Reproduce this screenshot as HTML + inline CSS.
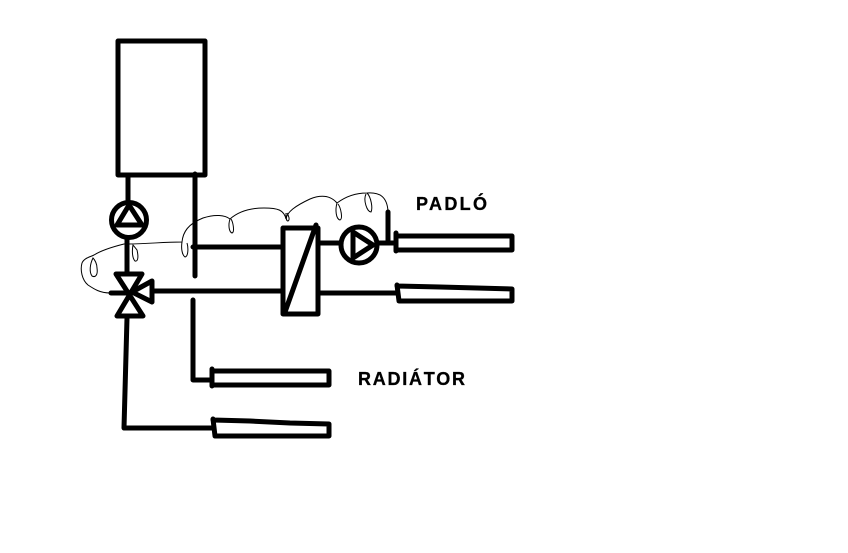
<!DOCTYPE html>
<html><head><meta charset="utf-8"><style>
html,body{margin:0;padding:0;background:#fff;width:848px;height:553px;overflow:hidden}
svg{display:block}
text{font-family:"Liberation Sans",sans-serif;font-weight:bold;font-size:18px;fill:#000;stroke:#000;stroke-width:.3px}
</style></head><body>
<svg width="848" height="553" viewBox="0 0 848 553" xmlns="http://www.w3.org/2000/svg">
<rect width="848" height="553" fill="#fff"/>
<g fill="none" stroke="#000" stroke-width="5" stroke-linecap="round" stroke-linejoin="round">
<rect x="118" y="41" width="87" height="134"/>
<path d="M128 175V202M127 238V273M195 174V276M193 300V380H210"/>
<circle cx="129" cy="220" r="17.5"/>
<path d="M129 205L117 225H142Z"/>
<path d="M116 274H142L117 316H143Z"/>
<path d="M152 281L132 292L152 302Z"/>
<path d="M111 293H130"/>
<path d="M127 318L124 428H212"/>
<path d="M193 247H283M153 291H283"/>
<rect x="283" y="228" width="35" height="86"/>
<path d="M285 312L316 225"/>
<circle cx="359" cy="245" r="18"/>
<path d="M353 232V258L373 245Z"/>
<path d="M318 243H341M378 243H396M388 212V243"/>
<path d="M396 233V251M396 236H512V250H396"/>
<path d="M318 293H398M397 285L399 301H512V289L440 287L397 286"/>
<path d="M212 369V386M212 371H329V385H212"/>
<path d="M213 419L215 436H329V424L290 423L250 421L213 420"/>
</g>
<g fill="none" stroke="#000" stroke-width="1">
<path d="M110 293C100 293 94 289 88 285C82 280 80 270 82 263C84 258 90 257 94 255C102 250 112 247 124 244C150 244 160 242 182 242C183 232 188 224 203 218C215 214 225 215 230 219C238 212 250 208 264 208C278 208 284 210 286 219C287 212 295 206 310 199C320 195 330 195 337 203C345 197 355 193 367 193C380 192 387 197 388 211"/>
<path d="M93 258C90 264 89 272 92 276C96 278 98 274 97 268C97 264 95 260 93 258Z"/>
<path d="M133 245C132 250 132 258 135 261C139 262 138 254 137 250Z"/>
<path d="M182 242C181 248 182 255 185 257C189 256 188 246 187 243"/>
<path d="M230 219C228 225 229 232 232 233C235 232 233 222 231 219"/>
<path d="M286 213C286 217 286 221 288 221C290 220 289 216 287 213"/>
<path d="M337 203C335 210 336 219 340 220C343 219 341 208 338 204"/>
<path d="M366 194C363 200 367 212 371 212C373 208 371 197 367 193"/>
</g>
<text x="416" y="210" textLength="71" lengthAdjust="spacing">PADLÓ</text>
<text x="358" y="385" textLength="107" lengthAdjust="spacing">RADIÁTOR</text>
</svg>
</body></html>
